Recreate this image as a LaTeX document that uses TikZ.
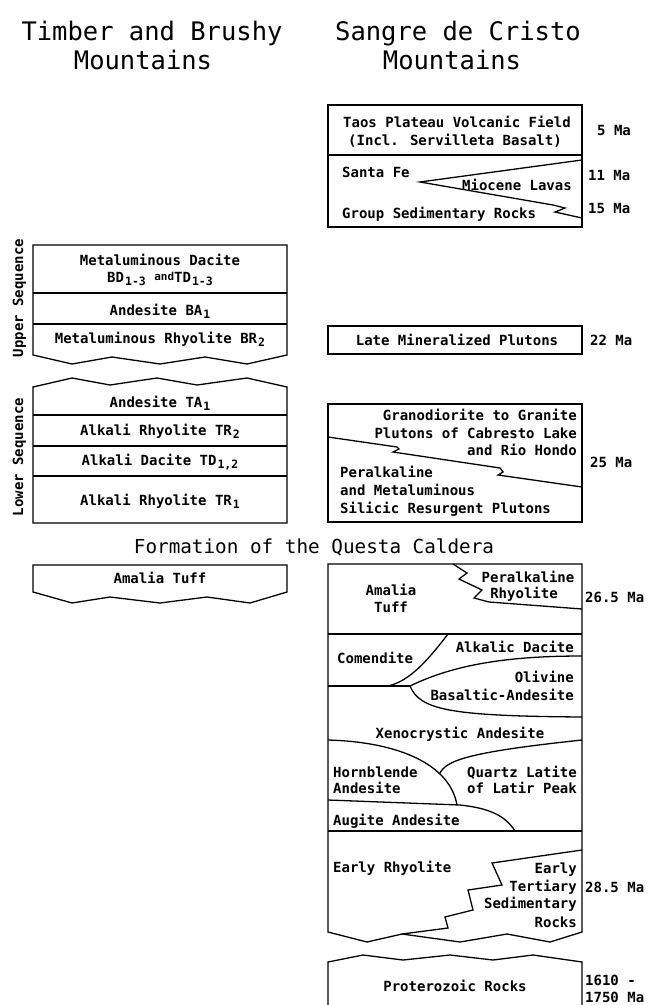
\documentclass[tikz,border=0pt]{standalone}
\usepackage{fontspec}
\newfontfamily\plotmono{DejaVu Sans Mono}
\newcommand\rockfont{\plotmono\bfseries\fontsize{14bp}{17bp}\selectfont}
\newcommand\headfont{\plotmono\fontsize{25.5bp}{30bp}\selectfont}
\newcommand\eventfont{\plotmono\fontsize{19.3bp}{23bp}\selectfont}
% lowered index digits of the unit symbols
\newcommand\unitsub[1]{\kern1bp\raisebox{-3.5bp}{\fontsize{11.5bp}{11.5bp}\selectfont #1}}
\newcommand\smalland{\raisebox{1.5bp}{\fontsize{11bp}{11bp}\selectfont and}}
\tikzset{
  unit/.style={draw, line width=1.3bp, line join=miter},
  contact/.style={draw, line width=1.3bp},
  rock/.style={font=\rockfont, inner sep=0pt, text height=10.2bp, text depth=0pt},
  age/.style={rock, anchor=west},
  head/.style={font=\headfont, inner sep=0pt, text height=18.6bp, text depth=0pt},
  event/.style={font=\eventfont, inner sep=0pt, text height=14.1bp, text depth=0pt},
}
\begin{document}
\begin{tikzpicture}[x=1bp,y=-1bp]
\useasboundingbox (0,0) rectangle (650,1005);

% ---------- column headings ----------
\node[head] (hl1) at (152,31) {Timber and Brushy};
\node[head] (hl2) at (143,60) {Mountains};
\node[head] (hr1) at (458,31) {Sangre de Cristo};
\node[head] (hr2) at (452,60) {Mountains};

% ---------- Timber and Brushy Mountains ----------
% upper sequence
\draw[unit] (33,355) -- (33,245) -- (287,245) -- (287,355)
  -- (247,364) -- (205,357) -- (160,364) -- (112,357) -- (72,364) -- cycle;
\draw[unit] (33,293) -- (287,293);
\draw[unit] (33,324) -- (287,324);
\node[rock] (bd) at (160,260) {Metaluminous Dacite};
\node[rock] (bdsub) at (160,277) {BD\unitsub{1-3} \smalland TD\unitsub{1-3}};
\node[rock] (ba1) at (160,310) {Andesite BA\unitsub{1}};
\node[rock] (br2) at (160,338) {Metaluminous Rhyolite BR\unitsub{2}};
\node[rock, rotate=90] (upper) at (18,298) {Upper Sequence};

% lower sequence
\draw[unit] (33,387) -- (72,378) -- (110,385) -- (157,378) -- (197,385) -- (247,378)
  -- (287,387) -- (287,523) -- (33,523) -- cycle;
\draw[unit] (33,415) -- (287,415);
\draw[unit] (33,446) -- (287,446);
\draw[unit] (33,476) -- (287,476);
\node[rock] (ta1) at (160,402) {Andesite TA\unitsub{1}};
\node[rock] (tr2) at (160,430) {Alkali Rhyolite TR\unitsub{2}};
\node[rock] (td12) at (160,460) {Alkali Dacite TD\unitsub{1,2}};
\node[rock] (tr1) at (160,500) {Alkali Rhyolite TR\unitsub{1}};
\node[rock, rotate=90] (lower) at (18,457) {Lower Sequence};

% caldera event
\node[event] (questa) at (314,546) {Formation of the Questa Caldera};

% Amalia Tuff
\draw[unit] (33,592) -- (33,565) -- (287,565) -- (287,592)
  -- (250,603) -- (207,597) -- (160,603) -- (110,597) -- (72,603) -- cycle;
\node[rock] (atl) at (160,578) {Amalia Tuff};

% ---------- Sangre de Cristo Mountains ----------
% Taos Plateau and Santa Fe Group
\draw[unit] (328,105) rectangle (582,227);
\draw[unit] (328,155) -- (582,155);
\draw[contact] (582,160) -- (420,182) -- (553,205) -- (565,208) -- (555,212) -- (582,218);
\node[rock] (taos1) at (457,122) {Taos Plateau Volcanic Field};
\node[rock] (taos2) at (455,140) {(Incl. Servilleta Basalt)};
\node[rock, anchor=west] (sf1) at (342,172) {Santa Fe};
\node[rock, anchor=west] (mio) at (462,185) {Miocene Lavas};
\node[rock, anchor=west] (sf2) at (342,213) {Group Sedimentary Rocks};
\node[age] (a5) at (597,130) {5 Ma};
\node[age] (a11) at (588,175) {11 Ma};
\node[age] (a15) at (588,208) {15 Ma};

% late plutons
\draw[unit] (328,326) rectangle (582,354);
\node[rock] (late) at (457,340) {Late Mineralized Plutons};
\node[age] (a22) at (590,340) {22 Ma};

% resurgent plutons
\draw[unit] (328,404) rectangle (582,522);
\draw[contact] (328,437) -- (397,447) -- (399,449) -- (393,452) -- (500,468)
  -- (503,472) -- (498,475) -- (582,487);
\node[rock, anchor=east] (gr1) at (577,415) {Granodiorite to Granite};
\node[rock, anchor=east] (gr2) at (577,433) {Plutons of Cabresto Lake};
\node[rock, anchor=east] (gr3) at (577,450) {and Rio Hondo};
\node[rock, anchor=west] (pk1) at (340,472) {Peralkaline};
\node[rock, anchor=west] (pk2) at (340,490) {and Metaluminous};
\node[rock, anchor=west] (pk3) at (340,508) {Silicic Resurgent Plutons};
\node[age] (a25) at (590,462) {25 Ma};

% caldera fill and pre-caldera volcanics
\draw[unit] (328,932) -- (328,564) -- (582,564) -- (582,932)
  -- (550,942) -- (507,934) -- (460,942) -- (402,934) -- (367,942) -- cycle;
\draw[unit] (328,634) -- (582,634);
\draw[contact] (453,564) -- (467,573) -- (459,579) -- (482,590) -- (474,598)
  -- (489,602) -- (582,609);
\node[rock] (at1) at (391,590) {Amalia};
\node[rock] (at2) at (391,607) {Tuff};
\node[rock] (pr1) at (528,577) {Peralkaline};
\node[rock] (pr2) at (524,593) {Rhyolite};
\node[age] (a265) at (585,597) {26.5 Ma};

\draw[contact] (328,686) -- (410,686);
\draw[contact] (448,634) .. controls (428,660) and (410,681) .. (388,686);
\draw[contact] (410,686) .. controls (455,664) and (510,656) .. (582,656);
\draw[contact] (410,686) .. controls (420,710) and (450,716) .. (582,717);
\node[rock, anchor=west] (com) at (337,658) {Comendite};
\node[rock, anchor=east] (ad) at (574,647) {Alkalic Dacite};
\node[rock, anchor=east] (ol1) at (574,677) {Olivine};
\node[rock, anchor=east] (ol2) at (574,695) {Basaltic-Andesite};
\node[rock] (xen) at (460,733) {Xenocrystic Andesite};

\draw[contact] (328,740) .. controls (400,742) and (450,765) .. (457,805)
  coordinate[pos=0.7] (qj);
\draw[contact] (qj) .. controls (446,760) and (470,752) .. (582,740);
\draw[contact] (328,800) -- (460,805) .. controls (488,808) and (505,815) .. (515,831);
\draw[unit] (328,831) -- (582,831);
\node[rock, anchor=west] (hb1) at (333,772) {Hornblende};
\node[rock, anchor=west] (hb2) at (333,788) {Andesite};
\node[rock, anchor=east] (ql1) at (577,772) {Quartz Latite};
\node[rock, anchor=east] (ql2) at (577,788) {of Latir Peak};
\node[rock, anchor=west] (aug) at (333,820) {Augite Andesite};

\draw[contact] (582,850) -- (492,863) -- (502,885) -- (468,890) -- (473,910)
  -- (445,917) -- (448,928) -- (402,934);
\node[rock, anchor=west] (er) at (333,867) {Early Rhyolite};
\node[rock, anchor=east] (et1) at (577,868) {Early};
\node[rock, anchor=east] (et2) at (577,886) {Tertiary};
\node[rock, anchor=east] (et3) at (577,903) {Sedimentary};
\node[rock, anchor=east] (et4) at (577,922) {Rocks};
\node[age] (a285) at (585,887) {28.5 Ma};

% basement
\draw[unit] (328,1005) -- (328,962) -- (363,955) -- (403,960) -- (450,955)
  -- (493,960) -- (533,955) -- (582,962) -- (582,1005);
\node[rock] (prot) at (455,986) {Proterozoic Rocks};
\node[age] (ap1) at (585,980) {1610 -};
\node[age] (ap2) at (585,997) {1750 Ma};
\end{tikzpicture}
\end{document}
